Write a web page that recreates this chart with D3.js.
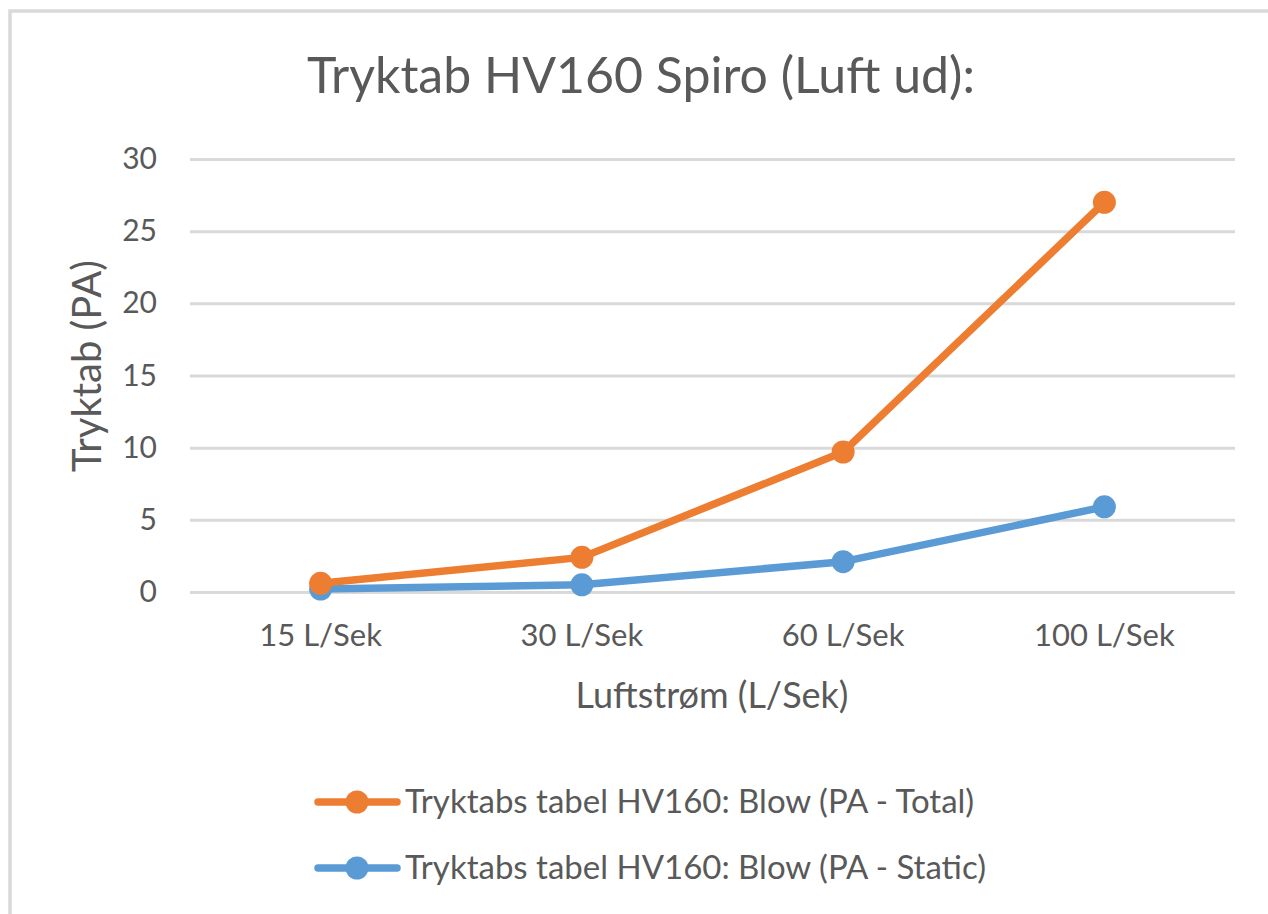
<!doctype html>
<html lang="da">
  <head>
    <meta charset="utf-8">
    <title>Tryktab HV160 Spiro</title>
    <script src="https://d3js.org/d3.v7.min.js"></script>
    <style>
      body { margin: 0; background: #fff; }
      text { font-family: Lato, "Open Sans", sans-serif; fill: #595959; }
    </style>
  </head>

  <body>
    <svg width="1268" height="914"></svg>

    <script>
      // data
      var categories = ['15 L/Sek', '30 L/Sek', '60 L/Sek', '100 L/Sek'];
      var totalValues = [0.6, 2.4, 9.7, 27.0];
      var staticValues = [0.2, 0.5, 2.1, 5.9];
      var yTicks = [0, 5, 10, 15, 20, 25, 30];
      var seriesNames = ['Tryktabs tabel HV160: Blow (PA - Total)', 'Tryktabs tabel HV160: Blow (PA - Static)'];
      var seriesColors = ['#ED7D31', '#5B9BD5'];

      var svg = d3.select('svg');

      // chart area border
      svg.append('rect')
        .attr('x', 10).attr('y', 11)
        .attr('width', 1300).attr('height', 1000)
        .style('fill', '#fff')
        .style('stroke', '#d9d9d9')
        .style('stroke-width', 3.5);

      var plotLeft = 190, plotRight = 1235, plotTop = 159, plotBottom = 592;

      var x = d3.scaleBand().domain(categories).range([plotLeft, plotRight]);
      var y = d3.scaleLinear().domain([0, 30]).range([plotBottom, plotTop]);
      var cx = function(d) { return x(d) + x.bandwidth() / 2; };

      // title
      svg.append('text')
        .attr('x', 641).attr('y', 93)
        .attr('text-anchor', 'middle')
        .style('font-size', '50px')
        .text('Tryktab HV160 Spiro (Luft ud):');

      // gridlines + y labels
      var yAxis = svg.append('g')
        .attr('transform', 'translate(' + plotLeft + ',0)')
        .call(d3.axisLeft(y).tickValues(yTicks).tickSize(-(plotRight - plotLeft)).tickPadding(33));
      yAxis.select('.domain').remove();
      yAxis.selectAll('line').style('stroke', '#d9d9d9').style('stroke-width', 3);
      yAxis.selectAll('text').style('font-size', '30px').style('fill', '#595959').style('font-family', 'Lato, sans-serif');

      // x labels
      var xAxis = svg.append('g')
        .attr('transform', 'translate(0,' + plotBottom + ')')
        .call(d3.axisBottom(x).tickSize(0).tickPadding(32));
      xAxis.select('.domain').remove();
      xAxis.selectAll('text').style('font-size', '31px').style('fill', '#595959').style('font-family', 'Lato, sans-serif');

      // axis titles
      svg.append('text')
        .attr('x', 712).attr('y', 708)
        .attr('text-anchor', 'middle')
        .style('font-size', '36px')
        .text('Luftstrøm (L/Sek)');

      svg.append('text')
        .attr('transform', 'translate(101,366) rotate(-90)')
        .attr('text-anchor', 'middle')
        .style('font-size', '40px')
        .text('Tryktab (PA)');

      // lines (static underneath total)
      var series = [
        { name: seriesNames[1], color: seriesColors[1], values: staticValues },
        { name: seriesNames[0], color: seriesColors[0], values: totalValues }
      ];

      var line = d3.line()
        .x(function(d, i) { return cx(categories[i]); })
        .y(function(d) { return y(d); });

      series.forEach(function(s) {
        var g = svg.append('g');
        g.append('path')
          .attr('d', line(s.values))
          .style('fill', 'none')
          .style('stroke', s.color)
          .style('stroke-width', 7.5)
          .style('stroke-linejoin', 'round')
          .style('stroke-linecap', 'round');
        g.selectAll('circle')
          .data(s.values)
          .enter().append('circle')
          .attr('cx', function(d, i) { return cx(categories[i]); })
          .attr('cy', function(d) { return y(d); })
          .attr('r', 11.5)
          .style('fill', s.color);
      });

      // legend
      var legend = svg.append('g');
      seriesNames.forEach(function(name, i) {
        var ly = 802 + i * 66;
        legend.append('line')
          .attr('x1', 318).attr('x2', 397)
          .attr('y1', ly).attr('y2', ly)
          .style('stroke', seriesColors[i])
          .style('stroke-width', 7.5)
          .style('stroke-linecap', 'round');
        legend.append('circle')
          .attr('cx', 357).attr('cy', ly).attr('r', 11.5)
          .style('fill', seriesColors[i]);
        legend.append('text')
          .attr('x', 405).attr('y', ly + 11)
          .style('font-size', '33px')
          .text(name);
      });
    </script>
  </body>
</html>
